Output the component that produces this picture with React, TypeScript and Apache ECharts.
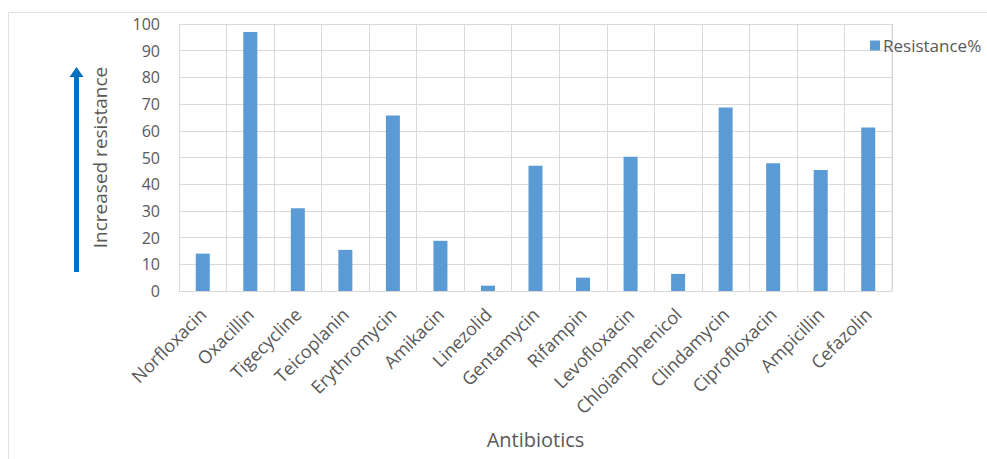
import React, { useEffect, useRef } from "react";
import * as echarts from "echarts";

const categories = [
  "Norfloxacin", "Oxacillin", "Tigecycline", "Teicoplanin", "Erythromycin",
  "Amikacin", "Linezolid", "Gentamycin", "Rifampin", "Levofloxacin",
  "Chloiamphenicol", "Clindamycin", "Ciprofloxacin", "Ampicillin", "Cefazolin",
];
const resistance = [14, 97, 31, 15.4, 65.7, 18.8, 2, 46.9, 5, 50.3, 6.4, 68.7, 47.8, 45.3, 61.2];
const yTicks = [0, 10, 20, 30, 40, 50, 60, 70, 80, 90, 100];
const seriesName = "Resistance%";

const FONT = "'Open Sans', sans-serif";
const TXT = "#595959";
const GRID = "#d9d9d9";

export default function App() {
  const ref = useRef<HTMLDivElement>(null);
  useEffect(() => {
    if (!ref.current) return;
    const chart = echarts.init(ref.current, null, { renderer: "svg" });
    chart.setOption({
      animation: false,
      backgroundColor: "#ffffff",
      textStyle: { fontFamily: FONT },
      grid: { left: 179, right: 95, top: 24, bottom: 168, containLabel: false, show: false },
      legend: {
        data: [seriesName],
        left: 865,
        top: 32,
        icon: "rect",
        itemWidth: 10,
        itemHeight: 10,
        itemGap: 6,
        textStyle: { color: TXT, fontSize: 17, fontFamily: FONT, padding: [0, 0, 0, -2] },
      },
      xAxis: {
        type: "category",
        data: categories,
        name: "Antibiotics",
        nameLocation: "middle",
        nameGap: 138,
        nameTextStyle: { color: TXT, fontSize: 20, fontFamily: FONT },
        axisLine: { show: true, lineStyle: { color: GRID, width: 1 } },
        axisTick: { show: false },
        splitLine: { show: true, lineStyle: { color: GRID, width: 1 } },
        axisLabel: { color: TXT, fontSize: 18, rotate: 45, margin: 20, interval: 0, fontFamily: FONT },
      },
      yAxis: {
        type: "value",
        min: yTicks[0],
        max: yTicks[yTicks.length - 1],
        interval: 10,
        name: "Increased resistance",
        nameLocation: "middle",
        nameRotate: 90,
        nameGap: 70,
        nameTextStyle: { color: TXT, fontSize: 19, fontFamily: FONT },
        axisLine: { show: false },
        axisTick: { show: false },
        splitLine: { show: true, lineStyle: { color: GRID, width: 1 } },
        axisLabel: { color: TXT, fontSize: 16, margin: 19, fontFamily: FONT },
      },
      series: [
        {
          name: seriesName,
          type: "bar",
          data: resistance,
          barWidth: 14,
          itemStyle: { color: "#5b9bd5" },
        },
      ],
      graphic: [
        {
          type: "rect",
          shape: { x: 8.5, y: 12.5, width: 1000, height: 460 },
          style: { fill: "none", stroke: "#e3e3e3", lineWidth: 1 },
          silent: true,
        },
        {
          type: "rect",
          shape: { x: 891.5, y: 24, width: 1, height: 267 },
          style: { fill: GRID },
          silent: true,
        },
        {
          type: "rect",
          shape: { x: 74, y: 75, width: 5, height: 197 },
          style: { fill: "#0070c0" },
          silent: true,
        },
        {
          type: "polygon",
          shape: { points: [[76.5, 67], [69.5, 77], [83.5, 77]] },
          style: { fill: "#0070c0" },
          silent: true,
        },
      ],
    });
    return () => chart.dispose();
  }, []);
  return (
    <div
      ref={ref}
      style={{ position: "fixed", left: 0, top: 0, width: 987, height: 459 }}
    />
  );
}
